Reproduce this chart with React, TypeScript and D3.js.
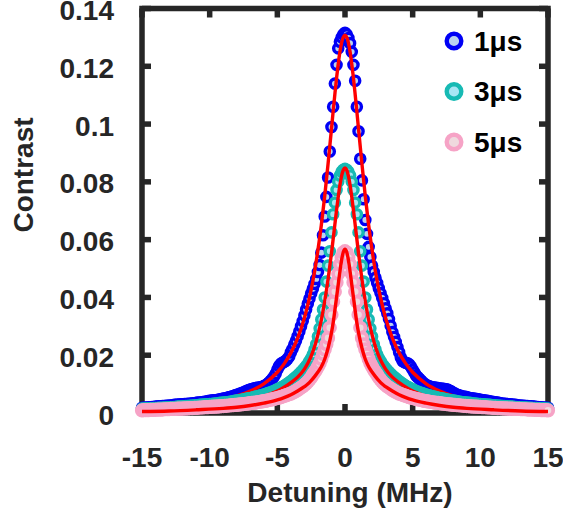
import React from 'react';
import * as d3 from 'd3';

const W = 563;
const H = 513;

// Detuning sweep: -15 .. 15 MHz, 0.125 MHz step (241 points)
const DETUNING_START = -15;
const DETUNING_STEP = 0.125;
const N_POINTS = 241;

const contrast1us = [
  0.0018,0.0018,0.0019,0.0019,0.0020,0.0020,0.0021,0.0021,
  0.0022,0.0022,0.0023,0.0023,0.0024,0.0024,0.0025,0.0025,
  0.0026,0.0026,0.0027,0.0028,0.0028,0.0029,0.0029,0.0030,
  0.0030,0.0031,0.0031,0.0032,0.0032,0.0033,0.0034,0.0034,
  0.0035,0.0036,0.0036,0.0037,0.0038,0.0039,0.0040,0.0041,
  0.0042,0.0043,0.0044,0.0044,0.0045,0.0046,0.0047,0.0048,
  0.0050,0.0051,0.0052,0.0054,0.0055,0.0057,0.0059,0.0061,
  0.0063,0.0065,0.0067,0.0069,0.0072,0.0074,0.0077,0.0079,
  0.0081,0.0083,0.0085,0.0086,0.0087,0.0088,0.0089,0.0091,
  0.0093,0.0096,0.0100,0.0105,0.0111,0.0118,0.0126,0.0136,
  0.0150,0.0162,0.0170,0.0174,0.0177,0.0181,0.0187,0.0195,
  0.0210,0.0222,0.0236,0.0250,0.0266,0.0282,0.0300,0.0318,
  0.0338,0.0358,0.0378,0.0396,0.0414,0.0430,0.0447,0.0464,
  0.0488,0.0512,0.0555,0.0615,0.0680,0.0748,0.0815,0.0905,
  0.0990,0.1060,0.1140,0.1205,0.1262,0.1285,0.1300,0.1310,
  0.1316,
  0.1310,0.1298,0.1280,0.1250,0.1205,0.1150,0.1060,0.0975,
  0.0880,0.0805,0.0740,0.0668,0.0620,0.0575,0.0540,0.0510,
  0.0488,0.0468,0.0450,0.0432,0.0415,0.0398,0.0380,0.0362,
  0.0345,0.0325,0.0302,0.0280,0.0263,0.0246,0.0228,0.0210,
  0.0192,0.0180,0.0176,0.0174,0.0172,0.0168,0.0160,0.0150,
  0.0140,0.0130,0.0124,0.0118,0.0112,0.0106,0.0101,0.0097,
  0.0094,0.0092,0.0090,0.0089,0.0088,0.0087,0.0086,0.0085,
  0.0085,0.0084,0.0083,0.0082,0.0080,0.0077,0.0074,0.0070,
  0.0067,0.0064,0.0062,0.0060,0.0058,0.0057,0.0056,0.0055,
  0.0053,0.0052,0.0051,0.0050,0.0049,0.0048,0.0047,0.0046,
  0.0045,0.0044,0.0043,0.0042,0.0041,0.0040,0.0039,0.0038,
  0.0037,0.0036,0.0035,0.0034,0.0033,0.0032,0.0032,0.0031,
  0.0030,0.0030,0.0029,0.0028,0.0028,0.0027,0.0026,0.0026,
  0.0025,0.0025,0.0024,0.0024,0.0023,0.0023,0.0022,0.0022,
  0.0021,0.0021,0.0020,0.0020,0.0019,0.0019,0.0018,0.0018,
];

const contrast3us = [
  0.0015,0.0015,0.0015,0.0016,0.0016,0.0016,0.0016,0.0017,
  0.0017,0.0017,0.0018,0.0018,0.0018,0.0019,0.0019,0.0019,
  0.0020,0.0020,0.0020,0.0021,0.0021,0.0022,0.0022,0.0022,
  0.0023,0.0023,0.0024,0.0024,0.0025,0.0025,0.0026,0.0026,
  0.0027,0.0027,0.0028,0.0028,0.0029,0.0029,0.0030,0.0030,
  0.0031,0.0031,0.0032,0.0033,0.0033,0.0034,0.0035,0.0035,
  0.0036,0.0037,0.0037,0.0038,0.0039,0.0040,0.0041,0.0042,
  0.0043,0.0044,0.0045,0.0046,0.0047,0.0048,0.0050,0.0051,
  0.0052,0.0053,0.0055,0.0056,0.0058,0.0059,0.0061,0.0062,
  0.0064,0.0066,0.0068,0.0070,0.0072,0.0074,0.0076,0.0079,
  0.0082,0.0085,0.0088,0.0091,0.0094,0.0098,0.0102,0.0106,
  0.0110,0.0115,0.0120,0.0125,0.0130,0.0136,0.0142,0.0148,
  0.0155,0.0162,0.0170,0.0180,0.0190,0.0203,0.0220,0.0238,
  0.0265,0.0293,0.0324,0.0358,0.0400,0.0455,0.0510,0.0560,
  0.0625,0.0688,0.0728,0.0772,0.0800,0.0822,0.0835,0.0842,
  0.0845,
  0.0842,0.0835,0.0822,0.0800,0.0772,0.0728,0.0688,0.0625,
  0.0560,0.0510,0.0455,0.0400,0.0358,0.0324,0.0293,0.0265,
  0.0238,0.0220,0.0203,0.0190,0.0180,0.0170,0.0162,0.0155,
  0.0148,0.0142,0.0136,0.0130,0.0125,0.0120,0.0115,0.0110,
  0.0106,0.0102,0.0098,0.0094,0.0091,0.0088,0.0085,0.0082,
  0.0079,0.0076,0.0074,0.0072,0.0070,0.0068,0.0066,0.0064,
  0.0062,0.0061,0.0059,0.0058,0.0056,0.0055,0.0053,0.0052,
  0.0051,0.0050,0.0048,0.0047,0.0046,0.0045,0.0044,0.0043,
  0.0042,0.0041,0.0040,0.0039,0.0038,0.0037,0.0037,0.0036,
  0.0035,0.0035,0.0034,0.0033,0.0033,0.0032,0.0031,0.0031,
  0.0030,0.0030,0.0029,0.0029,0.0028,0.0028,0.0027,0.0027,
  0.0026,0.0026,0.0025,0.0025,0.0024,0.0024,0.0023,0.0023,
  0.0022,0.0022,0.0022,0.0021,0.0021,0.0020,0.0020,0.0020,
  0.0019,0.0019,0.0019,0.0018,0.0018,0.0018,0.0017,0.0017,
  0.0017,0.0016,0.0016,0.0016,0.0016,0.0015,0.0015,0.0015,
];

const contrast5us = [
  0.0009,0.0010,0.0010,0.0010,0.0010,0.0011,0.0011,0.0011,
  0.0011,0.0012,0.0012,0.0012,0.0012,0.0013,0.0013,0.0013,
  0.0013,0.0014,0.0014,0.0014,0.0014,0.0015,0.0015,0.0015,
  0.0015,0.0016,0.0016,0.0016,0.0017,0.0017,0.0017,0.0018,
  0.0018,0.0018,0.0019,0.0019,0.0019,0.0020,0.0020,0.0020,
  0.0021,0.0021,0.0022,0.0022,0.0022,0.0023,0.0023,0.0024,
  0.0024,0.0025,0.0025,0.0026,0.0026,0.0027,0.0027,0.0028,
  0.0028,0.0029,0.0030,0.0030,0.0031,0.0032,0.0032,0.0033,
  0.0034,0.0035,0.0035,0.0036,0.0037,0.0038,0.0039,0.0040,
  0.0041,0.0042,0.0043,0.0045,0.0046,0.0047,0.0049,0.0050,
  0.0052,0.0053,0.0055,0.0057,0.0059,0.0061,0.0063,0.0065,
  0.0067,0.0070,0.0073,0.0076,0.0080,0.0084,0.0088,0.0092,
  0.0097,0.0102,0.0108,0.0115,0.0123,0.0132,0.0141,0.0150,
  0.0160,0.0171,0.0187,0.0204,0.0220,0.0238,0.0260,0.0295,
  0.0340,0.0385,0.0420,0.0452,0.0482,0.0515,0.0538,0.0555,
  0.0560,
  0.0555,0.0538,0.0515,0.0482,0.0452,0.0420,0.0385,0.0340,
  0.0295,0.0260,0.0238,0.0220,0.0204,0.0187,0.0171,0.0160,
  0.0150,0.0141,0.0132,0.0123,0.0115,0.0108,0.0102,0.0097,
  0.0092,0.0088,0.0084,0.0080,0.0076,0.0073,0.0070,0.0067,
  0.0065,0.0063,0.0061,0.0059,0.0057,0.0055,0.0053,0.0052,
  0.0050,0.0049,0.0047,0.0046,0.0045,0.0043,0.0042,0.0041,
  0.0040,0.0039,0.0038,0.0037,0.0036,0.0035,0.0035,0.0034,
  0.0033,0.0032,0.0032,0.0031,0.0030,0.0030,0.0029,0.0028,
  0.0028,0.0027,0.0027,0.0026,0.0026,0.0025,0.0025,0.0024,
  0.0024,0.0023,0.0023,0.0022,0.0022,0.0022,0.0021,0.0021,
  0.0020,0.0020,0.0020,0.0019,0.0019,0.0019,0.0018,0.0018,
  0.0018,0.0017,0.0017,0.0017,0.0016,0.0016,0.0016,0.0015,
  0.0015,0.0015,0.0015,0.0014,0.0014,0.0014,0.0014,0.0013,
  0.0013,0.0013,0.0013,0.0012,0.0012,0.0012,0.0012,0.0011,
  0.0011,0.0011,0.0011,0.0010,0.0010,0.0010,0.0010,0.0009,
];

// Fitted curves (red), sampled
const fitDetuning = [
  -15,-13,-11,-9,-8,-7,-6,-5,-4.5,-4,-3.5,-3,-2.75,-2.5,-2.25,-2,-1.75,-1.5,-1.25,-1,
  -0.875,-0.75,-0.625,-0.5,-0.375,-0.25,-0.125,0,0.125,0.25,0.375,0.5,0.625,0.75,0.875,
  1,1.25,1.5,1.75,2,2.25,2.5,2.75,3,3.5,4,4.5,5,6,7,8,9,11,13,15,
];
const fit1us = [
  0.0017,0.0023,0.0032,0.0047,0.0059,0.0076,0.0101,0.0141,0.0170,0.0208,0.0259,0.0329,0.0374,0.0427,0.0489,0.0564,0.0650,0.0750,0.0863,0.0983,
  0.1044,0.1103,0.1159,0.1208,0.1250,0.1282,0.1301,0.1308,0.1301,0.1282,0.1250,0.1208,0.1159,0.1103,0.1044,
  0.0983,0.0863,0.0750,0.0650,0.0564,0.0489,0.0427,0.0374,0.0329,0.0259,0.0208,0.0170,0.0141,0.0101,0.0076,0.0059,0.0047,0.0032,0.0023,0.0017,
];
const fit3us = [
  0.0010,0.0014,0.0020,0.0029,0.0036,0.0045,0.0058,0.0076,0.0089,0.0105,0.0124,0.0152,0.0172,0.0197,0.0229,0.0271,0.0322,0.0386,0.0463,0.0553,
  0.0602,0.0652,0.0702,0.0748,0.0789,0.0821,0.0841,0.0848,0.0841,0.0821,0.0789,0.0748,0.0702,0.0652,0.0602,
  0.0553,0.0463,0.0386,0.0322,0.0271,0.0229,0.0197,0.0172,0.0152,0.0124,0.0105,0.0089,0.0076,0.0058,0.0045,0.0036,0.0029,0.0020,0.0014,0.0010,
];
const fit5us = [
  0.0005,0.0007,0.0011,0.0016,0.0020,0.0026,0.0034,0.0045,0.0053,0.0063,0.0076,0.0091,0.0100,0.0112,0.0126,0.0142,0.0160,0.0186,0.0225,0.0278,
  0.0312,0.0355,0.0400,0.0445,0.0490,0.0530,0.0557,0.0567,0.0557,0.0530,0.0490,0.0445,0.0400,0.0355,0.0312,
  0.0278,0.0225,0.0186,0.0160,0.0142,0.0126,0.0112,0.0100,0.0091,0.0076,0.0063,0.0053,0.0045,0.0034,0.0026,0.0020,0.0016,0.0011,0.0007,0.0005,
];

const seriesNames = ['1\u03bcs', '3\u03bcs', '5\u03bcs'];
const xTicks = [-15, -10, -5, 0, 5, 10, 15];
const yTicks = [0, 0.02, 0.04, 0.06, 0.08, 0.1, 0.12, 0.14];
const yTickLabels = ['0', '0.02', '0.04', '0.06', '0.08', '0.1', '0.12', '0.14'];

const STYLES = [
  { stroke: '#0000f5', fill: '#bcd2f0', r: 4.6, sw: 3.4 },
  { stroke: '#17bab4', fill: '#a8e6f4', r: 4.6, sw: 3.4 },
  { stroke: '#f6a3c6', fill: '#efd9de', r: 5.2, sw: 3.8 },
];

const FONT = "'Liberation Sans', Arial, Helvetica, sans-serif";
const AXIS_COLOR = '#262626';

export default function App() {
  const x = d3.scaleLinear().domain([-15, 15]).range([142, 548]);
  const y = d3.scaleLinear().domain([0, 0.14]).range([413, 8.5]);

  const detuning = d3.range(N_POINTS).map((i) => DETUNING_START + i * DETUNING_STEP);
  const dataSets = [contrast1us, contrast3us, contrast5us];
  const fits = [fit1us, fit3us, fit5us];

  const line = d3
    .line<number>()
    .x((_, i) => x(fitDetuning[i]))
    .y((d) => y(d))
    .curve(d3.curveMonotoneX);

  const frameW = 5.5;
  const tickLen = 9;

  return (
    <svg
      width={W}
      height={H}
      style={{ position: 'absolute', left: 0, top: 0, background: '#fff' }}
      fontFamily={FONT}
    >
      {/* axes box */}
      <rect
        x={x(-15)}
        y={y(0.14)}
        width={x(15) - x(-15)}
        height={y(0) - y(0.14)}
        fill="none"
        stroke={AXIS_COLOR}
        strokeWidth={frameW}
      />
      {xTicks.map((t) => (
        <g key={'xt' + t}>
          <line x1={x(t)} x2={x(t)} y1={y(0)} y2={y(0) - tickLen} stroke={AXIS_COLOR} strokeWidth={frameW} />
          <line x1={x(t)} x2={x(t)} y1={y(0.14)} y2={y(0.14) + tickLen} stroke={AXIS_COLOR} strokeWidth={frameW} />
          <text x={x(t)} y={467} textAnchor="middle" fontSize={28} fontWeight="bold" fill={AXIS_COLOR}>
            {t}
          </text>
        </g>
      ))}
      {yTicks.map((t, i) => (
        <g key={'yt' + t}>
          <line x1={x(-15)} x2={x(-15) + tickLen} y1={y(t)} y2={y(t)} stroke={AXIS_COLOR} strokeWidth={frameW} />
          <line x1={x(15)} x2={x(15) - tickLen} y1={y(t)} y2={y(t)} stroke={AXIS_COLOR} strokeWidth={frameW} />
          <text x={114} y={y(t) + 11.5} textAnchor="end" fontSize={28} fontWeight="bold" fill={AXIS_COLOR}>
            {yTickLabels[i]}
          </text>
        </g>
      ))}

      {/* data + fits, drawn series by series */}
      {dataSets.map((vals, s) => (
        <g key={'s' + s}>
          {vals.map((v, i) => (
            <circle
              key={i}
              cx={x(detuning[i])}
              cy={y(v)}
              r={STYLES[s].r}
              fill={STYLES[s].fill}
              stroke={STYLES[s].stroke}
              strokeWidth={STYLES[s].sw}
            />
          ))}
          <path d={line(fits[s]) || ''} fill="none" stroke="#ff0000" strokeWidth={3.4} strokeLinejoin="round" />
        </g>
      ))}

      {/* axis labels */}
      <text x={350} y={502} textAnchor="middle" fontSize={28} fontWeight="bold" fill={AXIS_COLOR}>
        Detuning (MHz)
      </text>
      <text
        transform="translate(33,175) rotate(-90)"
        textAnchor="middle"
        fontSize={28}
        fontWeight="bold"
        fill={AXIS_COLOR}
      >
        Contrast
      </text>

      {/* legend */}
      {seriesNames.map((name, s) => (
        <g key={'lg' + s} transform={`translate(0,${41 + s * 50.5})`}>
          <circle cx={454} cy={0} r={7.3} fill={STYLES[s].fill} stroke={STYLES[s].stroke} strokeWidth={4.4} />
          <text x={474} y={9.5} fontSize={28} fontWeight="bold" fill="#000">
            {name}
          </text>
        </g>
      ))}
    </svg>
  );
}
